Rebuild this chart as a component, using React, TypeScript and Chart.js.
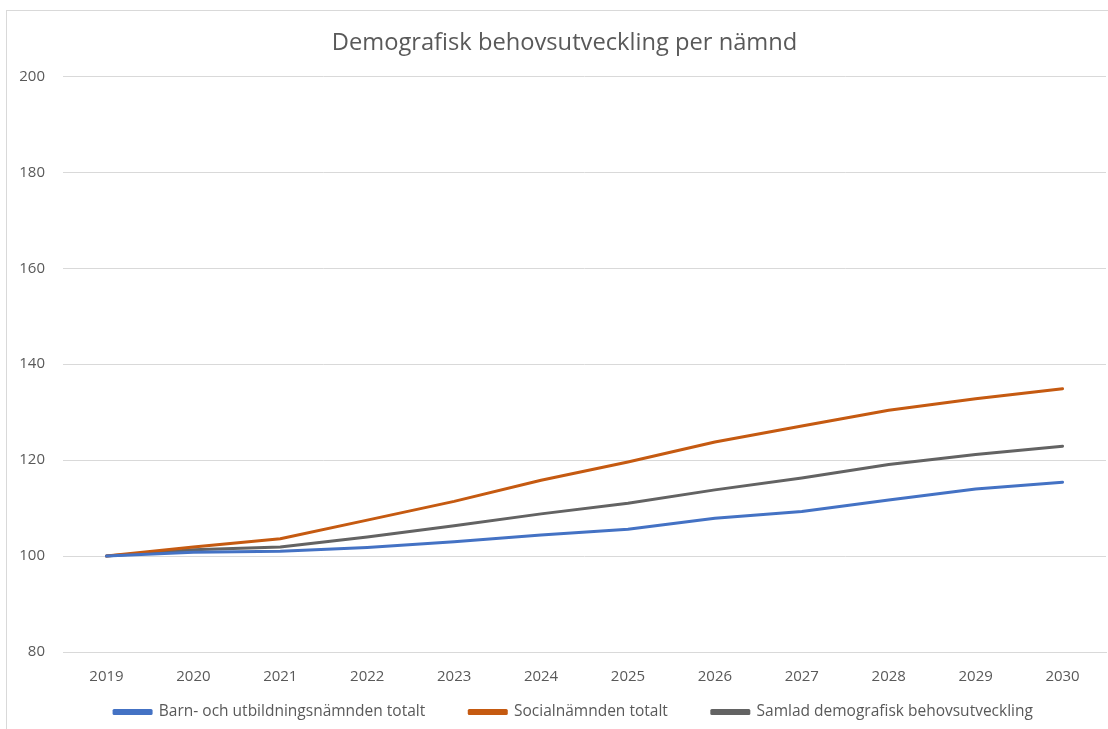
import React, { useEffect, useRef } from "react";
import { Chart, registerables } from "chart.js";

Chart.register(...registerables);

const years = ["2019", "2020", "2021", "2022", "2023", "2024", "2025", "2026", "2027", "2028", "2029", "2030"];
const barnUtbildning = [100, 100.8, 101.0, 101.8, 103.0, 104.4, 105.6, 107.9, 109.3, 111.7, 114.0, 115.4];
const socialnamnden = [100, 101.9, 103.6, 107.5, 111.4, 115.8, 119.6, 123.8, 127.1, 130.4, 132.8, 134.9];
const samlad = [100, 101.3, 101.9, 104.0, 106.3, 108.8, 111.0, 113.8, 116.3, 119.1, 121.2, 122.9];
const yTicks = { min: 80, max: 200, step: 20 };

const FONT = "'Open Sans', 'Liberation Sans', sans-serif";
const LEGEND_PAD = 44;
const LEGEND_FONT = 15.5;

// Nudge title and legend boxes after layout so they sit where the original does.
const placeBlocks = {
  id: "placeBlocks",
  afterLayout(chart: any) {
    if (chart.titleBlock) chart.titleBlock.left = 16;
    if (chart.legend) {
      chart.legend.left = 34;
      chart.legend.top = 701 - LEGEND_PAD - LEGEND_FONT / 2;
    }
  },
};

export default function App() {
  const ref = useRef<HTMLCanvasElement>(null);
  useEffect(() => {
    if (!ref.current) return;
    const chart = new Chart(ref.current, {
      type: "line",
      plugins: [placeBlocks],
      data: {
        labels: years,
        datasets: [
          { label: "Barn- och utbildningsnämnden totalt", data: barnUtbildning, borderColor: "#4472C4", backgroundColor: "#4472C4", borderWidth: 3, pointRadius: 0, tension: 0, borderCapStyle: "round", borderJoinStyle: "round" },
          { label: "Socialnämnden totalt", data: socialnamnden, borderColor: "#C55A11", backgroundColor: "#C55A11", borderWidth: 3, pointRadius: 0, tension: 0, borderCapStyle: "round", borderJoinStyle: "round" },
          { label: "Samlad demografisk behovsutveckling", data: samlad, borderColor: "#636363", backgroundColor: "#636363", borderWidth: 3, pointRadius: 0, tension: 0, borderCapStyle: "round", borderJoinStyle: "round" },
        ],
      },
      options: {
        animation: false,
        responsive: true,
        maintainAspectRatio: false,
        layout: { padding: { left: 0, right: 20, top: 0, bottom: 5.5 } },
        plugins: {
          title: {
            display: true,
            text: "Demografisk behovsutveckling per nämnd",
            color: "#595959",
            font: { family: FONT, size: 23.7, weight: "normal" },
            padding: { top: 18, bottom: 19 },
          },
          legend: {
            position: "bottom",
            labels: {
              color: "#595959",
              font: { family: FONT, size: LEGEND_FONT },
              boxWidth: 37,
              boxHeight: 3,
              padding: LEGEND_PAD,
            },
          },
          tooltip: { enabled: false },
        },
        scales: {
          x: {
            offset: true,
            afterFit: (scale: any) => { scale.height = 34; },
            grid: { display: false },
            border: { color: "#d9d9d9" },
            ticks: { color: "#595959", font: { family: FONT, size: 15 }, padding: 8 },
          },
          y: {
            min: yTicks.min,
            max: yTicks.max,
            afterFit: (scale: any) => { scale.width = 56; },
            grid: { color: "#d9d9d9", drawTicks: false },
            border: { display: false },
            ticks: { stepSize: yTicks.step, color: "#595959", font: { family: FONT, size: 15 }, padding: 18 },
          },
        },
      },
    });
    return () => chart.destroy();
  }, []);
  return (
    <div style={{ position: "absolute", left: 0, top: 0, width: 1108, height: 729, overflow: "hidden", background: "#fff" }}>
      <div style={{ position: "absolute", left: 6, top: 10, width: 1120, height: 752, borderLeft: "1px solid #d9d9d9", borderTop: "1px solid #d9d9d9", boxSizing: "border-box" }}>
        <div style={{ position: "relative", width: 1119, height: 750 }}>
          <canvas ref={ref} />
        </div>
      </div>
    </div>
  );
}
